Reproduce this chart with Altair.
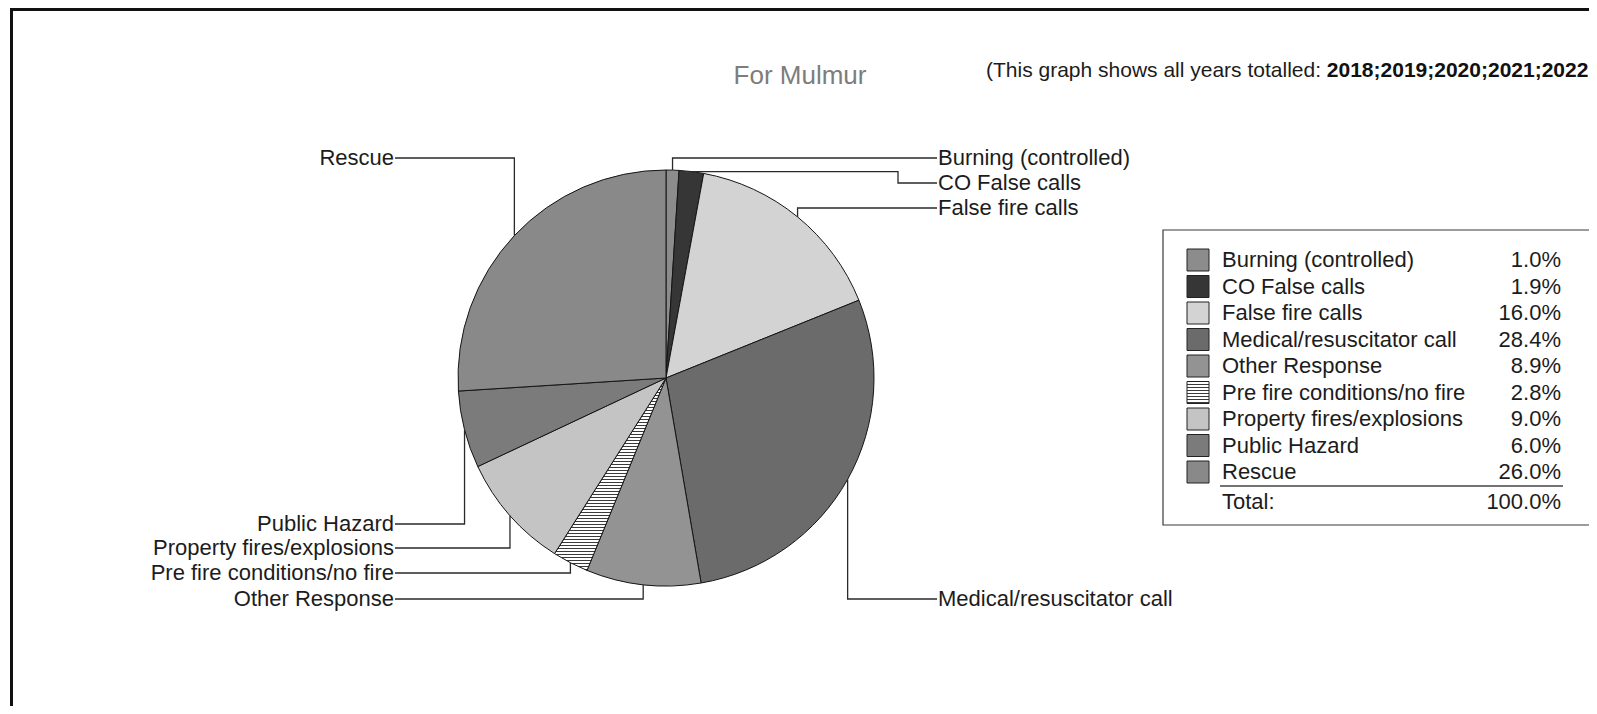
import math
import altair as alt
import pandas as pd

# ---------------- data ----------------
categories = [
    "Burning (controlled)",
    "CO False calls",
    "False fire calls",
    "Medical/resuscitator call",
    "Other Response",
    "Pre fire conditions/no fire",
    "Property fires/explosions",
    "Public Hazard",
    "Rescue",
]
percent = [1.0, 1.9, 16.0, 28.4, 8.9, 2.8, 9.0, 6.0, 26.0]
title_text = "For Mulmur"
subtitle_text = "(This graph shows all years totalled: "
subtitle_years = "2018;2019;2020;2021;2022"
total_label = "Total:"

# ---------------- style / layout ----------------
greys = ["#8c8c8c", "#363636", "#d3d3d3", "#6b6b6b", "#939393",
         "#ffffff", "#c4c4c4", "#7b7b7b", "#898989"]
FONT = "Liberation Sans"
TXT = "#1c1c1c"
W, H = 1581, 698
XS = alt.Scale(domain=[8, 8 + W], range=[0, W], nice=False, zero=False)
YS = alt.Scale(domain=[8, 8 + H], range=[0, H], nice=False, zero=False)
CX, CY, R = 666, 378, 208
RIGHT_X, LEFT_X = 937, 395
# side, label y, optional elbow x
label_layout = {
    "Burning (controlled)": ("right", 158, None),
    "CO False calls": ("right", 183, 898),
    "False fire calls": ("right", 208, None),
    "Medical/resuscitator call": ("right", 599, None),
    "Other Response": ("left", 599, None),
    "Pre fire conditions/no fire": ("left", 573, None),
    "Property fires/explosions": ("left", 548, None),
    "Public Hazard": ("left", 524, None),
    "Rescue": ("left", 158, None),
}


def stripes(n, frac=0.64, light="#ffffff", dark="#3a3a3a"):
    stops = []
    for i in range(n):
        a, b, c = i / n, (i + frac) / n, (i + 1) / n
        stops += [{"offset": a, "color": light}, {"offset": b, "color": light},
                  {"offset": b, "color": dark}, {"offset": c, "color": dark}]
    return {"gradient": "linear", "x1": 0, "y1": 0, "x2": 0, "y2": 1, "stops": stops}


STRIPE_CAT = categories[5]
fill_scale = alt.Scale(domain=categories, range=greys)


def fill_enc(n):
    return alt.condition(
        f"datum.cat == '{STRIPE_CAT}'",
        alt.value(stripes(n)),
        alt.Fill("cat:N", scale=fill_scale, legend=None),
    )


# ---------------- pie ----------------
pie_df = pd.DataFrame({"cat": categories, "pct": percent,
                       "idx": list(range(len(categories))),
                       "cx": CX, "cy": CY})
pie = alt.Chart(pie_df).mark_arc(radius=R, stroke="#151515", strokeWidth=1).encode(
    theta=alt.Theta("pct:Q", stack=True),
    order=alt.Order("idx:Q"),
    x=alt.X("cx:Q", scale=XS, axis=None),
    y=alt.Y("cy:Q", scale=YS, axis=None),
    fill=fill_enc(64),
)

# ---------------- leader lines + labels ----------------
total = sum(percent)
rows, lab_rows = [], []
cum = 0.0
for cat, p in zip(categories, percent):
    mid = (cum + p / 2) / total * 2 * math.pi
    cum += p
    px, py = CX + R * math.sin(mid), CY - R * math.cos(mid)
    side, ly, elbow = label_layout[cat]
    lx = RIGHT_X if side == "right" else LEFT_X
    if elbow is not None:
        pts = [(px, py), (elbow, py), (elbow, ly), (lx, ly)]
    else:
        pts = [(px, py), (px, ly), (lx, ly)]
    for k, (x, y) in enumerate(pts):
        rows.append({"cat": cat, "step": k, "x": x, "y": y})
    lab_rows.append({"cat": cat, "side": side, "x": lx, "y": ly})
line_df = pd.DataFrame(rows)
lab_df = pd.DataFrame(lab_rows)

leaders = alt.Chart(line_df).mark_line(color="#2a2a2a", strokeWidth=1.3).encode(
    x=alt.X("x:Q", scale=XS, axis=None),
    y=alt.Y("y:Q", scale=YS, axis=None),
    detail="cat:N",
    order="step:Q",
)
lab_right = alt.Chart(lab_df[lab_df.side == "right"]).mark_text(
    align="left", baseline="middle", font=FONT, fontSize=22, color=TXT, dx=1
).encode(x=alt.X("x:Q", scale=XS, axis=None), y=alt.Y("y:Q", scale=YS, axis=None), text="cat:N")
lab_left = alt.Chart(lab_df[lab_df.side == "left"]).mark_text(
    align="right", baseline="middle", font=FONT, fontSize=22, color=TXT, dx=-1
).encode(x=alt.X("x:Q", scale=XS, axis=None), y=alt.Y("y:Q", scale=YS, axis=None), text="cat:N")

# ---------------- titles ----------------
SUB_X = 986
SUB_SIZE = 21
title_df = pd.DataFrame({"t": [title_text], "x": [800], "y": [76]})
title = alt.Chart(title_df).mark_text(
    align="center", baseline="middle", font=FONT, fontSize=26, color="#7d7d7d"
).encode(x=alt.X("x:Q", scale=XS, axis=None), y=alt.Y("y:Q", scale=YS, axis=None), text="t:N")
sub_df = pd.DataFrame({"t": [subtitle_text], "x": [SUB_X], "y": [71]})
sub = alt.Chart(sub_df).mark_text(
    align="left", baseline="middle", font=FONT, fontSize=SUB_SIZE, color=TXT
).encode(x=alt.X("x:Q", scale=XS, axis=None), y=alt.Y("y:Q", scale=YS, axis=None), text="t:N")
yrs_df = pd.DataFrame({"t": [subtitle_years], "x": [SUB_X + 16.23 * SUB_SIZE], "y": [71]})
yrs = alt.Chart(yrs_df).mark_text(
    align="left", baseline="middle", font=FONT, fontSize=SUB_SIZE, fontWeight="bold", color="#111"
).encode(x=alt.X("x:Q", scale=XS, axis=None), y=alt.Y("y:Q", scale=YS, axis=None), text="t:N")

# ---------------- legend box ----------------
LX0, LX1, LY0, LY1 = 1163, 1600, 230, 525
ROW0, ROWH = 260, 26.5
SW0, SW1 = 1187, 1209
TX, PX = 1222, 1561
leg_df = pd.DataFrame({
    "cat": categories,
    "pct_txt": [f"{p:.1f}%" for p in percent],
    "y": [ROW0 + ROWH * i for i in range(len(categories))],
})
leg_df["y0"] = leg_df["y"] - 11
leg_df["y1"] = leg_df["y"] + 11
leg_df["sx0"] = SW0
leg_df["sx1"] = SW1
leg_df["tx"] = TX
leg_df["px"] = PX

box_df = pd.DataFrame({"x0": [LX0], "x1": [LX1], "y0": [LY0], "y1": [LY1]})
box = alt.Chart(box_df).mark_rect(fill="white", stroke="#3a3a3a", strokeWidth=1.2).encode(
    x=alt.X("x0:Q", scale=XS, axis=None), x2="x1:Q",
    y=alt.Y("y0:Q", scale=YS, axis=None), y2="y1:Q",
)
swatch = alt.Chart(leg_df).mark_rect(stroke="#222", strokeWidth=1).encode(
    x=alt.X("sx0:Q", scale=XS, axis=None), x2="sx1:Q",
    y=alt.Y("y0:Q", scale=YS, axis=None), y2="y1:Q",
    fill=fill_enc(7),
)
leg_txt = alt.Chart(leg_df).mark_text(
    align="left", baseline="middle", font=FONT, fontSize=22, color=TXT
).encode(x=alt.X("tx:Q", scale=XS, axis=None), y=alt.Y("y:Q", scale=YS, axis=None), text="cat:N")
leg_pct = alt.Chart(leg_df).mark_text(
    align="right", baseline="middle", font=FONT, fontSize=22, color=TXT
).encode(x=alt.X("px:Q", scale=XS, axis=None), y=alt.Y("y:Q", scale=YS, axis=None), text="pct_txt:N")

sep_df = pd.DataFrame({"x0": [1220], "x1": [1563], "y": [486]})
sep = alt.Chart(sep_df).mark_rule(color="#444", strokeWidth=1.6).encode(
    x=alt.X("x0:Q", scale=XS, axis=None), x2="x1:Q", y=alt.Y("y:Q", scale=YS, axis=None)
)
tot_df = pd.DataFrame({"lab": [total_label], "val": [f"{total:.1f}%"],
                       "tx": [TX], "px": [PX], "y": [502]})
tot_lab = alt.Chart(tot_df).mark_text(
    align="left", baseline="middle", font=FONT, fontSize=22, color=TXT
).encode(x=alt.X("tx:Q", scale=XS, axis=None), y=alt.Y("y:Q", scale=YS, axis=None), text="lab:N")
tot_val = alt.Chart(tot_df).mark_text(
    align="right", baseline="middle", font=FONT, fontSize=22, color=TXT
).encode(x=alt.X("px:Q", scale=XS, axis=None), y=alt.Y("y:Q", scale=YS, axis=None), text="val:N")

# ---------------- frame ----------------
frame_top = alt.Chart(box_df).mark_rule(color="#111", strokeWidth=3).encode(
    x=alt.value(3), x2=alt.value(W), y=alt.value(1.5)
)
frame_left = alt.Chart(box_df).mark_rule(color="#111", strokeWidth=3).encode(
    x=alt.value(3.5), y=alt.value(0), y2=alt.value(H)
)

chart = alt.layer(
    pie, leaders, lab_right, lab_left, title, sub, yrs,
    box, swatch, leg_txt, leg_pct, sep, tot_lab, tot_val,
    frame_top, frame_left,
).properties(
    width=W, height=H, padding=0, autosize=alt.AutoSizeParams(type="none"),
    background="white",
).configure_view(stroke=None)

chart.save("out.html", embed_options={"renderer": "svg", "actions": False})
